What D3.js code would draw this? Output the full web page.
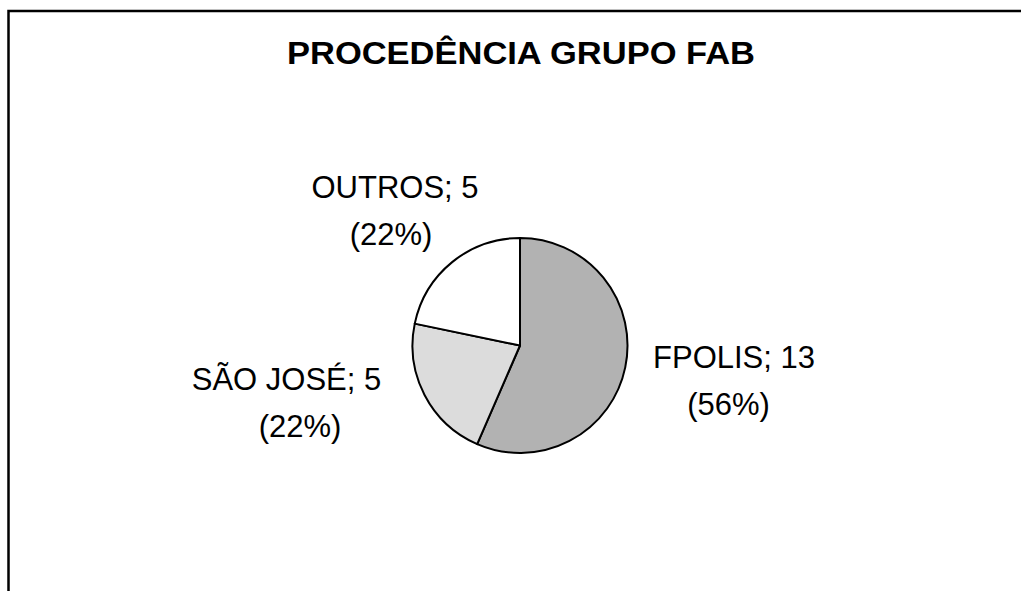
<!DOCTYPE html>
<html>
<head>
<meta charset="utf-8">
<script src="https://cdn.jsdelivr.net/npm/d3@7"></script>
<style>
  html, body { margin: 0; padding: 0; background: #fff; }
  svg { display: block; }
  text { font-family: "Liberation Sans", Arial, sans-serif; fill: #000; }
</style>
</head>
<body>
<div id="chart"></div>
<script>
const title = "PROCEDÊNCIA GRUPO FAB";
const categories = ["FPOLIS", "SÃO JOSÉ", "OUTROS"];
const values = [13, 5, 5];
const percentLabels = ["56%", "22%", "22%"];
const colors = ["#b2b2b2", "#dcdcdc", "#ffffff"];

const W = 1021, H = 591;
const svg = d3.select("#chart").append("svg").attr("width", W).attr("height", H);

// frame (extends past right/bottom of the view)
svg.append("rect")
  .attr("x", 8.5).attr("y", 11)
  .attr("width", 1040).attr("height", 620)
  .attr("fill", "none").attr("stroke", "#000").attr("stroke-width", 2.5);

// title
svg.append("text")
  .attr("x", 521).attr("y", 64)
  .attr("text-anchor", "middle")
  .attr("font-size", 31).attr("font-weight", "bold")
  .attr("textLength", 468).attr("lengthAdjust", "spacingAndGlyphs")
  .text(title);

const cx = 520, cy = 345.5, r = 107.5;
const pie = d3.pie().sort(null).value(d => d.v).startAngle(0).endAngle(2 * Math.PI);
const data = categories.map((c, i) => ({ c, v: values[i], p: percentLabels[i], col: colors[i] }));
const arcs = pie(data);
const arc = d3.arc().innerRadius(0).outerRadius(r);

const g = svg.append("g").attr("transform", `translate(${cx},${cy})`);
g.selectAll("path").data(arcs).enter().append("path")
  .attr("d", arc)
  .attr("fill", d => d.data.col)
  .attr("stroke", "#000").attr("stroke-width", 2)
  .attr("stroke-linejoin", "round");

// label layout: [line1 center x, line1 baseline, line2 center x, line2 baseline]
const labelPos = {
  "FPOLIS":   [734, 368, 728.5, 415],
  "SÃO JOSÉ": [286.5, 390, 300, 437],
  "OUTROS":   [395, 198, 391, 245]
};
const lbl = svg.append("g").attr("font-size", 31);
arcs.forEach(a => {
  const p = labelPos[a.data.c];
  lbl.append("text").attr("x", p[0]).attr("y", p[1]).attr("text-anchor", "middle")
    .text(`${a.data.c}; ${a.data.v}`);
  lbl.append("text").attr("x", p[2]).attr("y", p[3]).attr("text-anchor", "middle")
    .text(`(${a.data.p})`);
});
</script>
</body>
</html>
